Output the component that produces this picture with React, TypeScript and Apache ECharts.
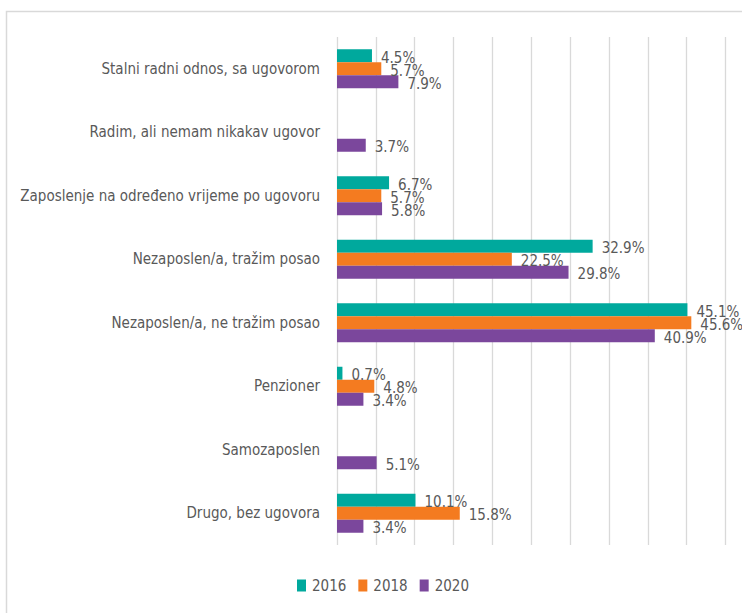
import React, { useEffect, useRef } from "react";
import * as echarts from "echarts";

const categories = [
  "Stalni radni odnos, sa ugovorom",
  "Radim, ali nemam nikakav ugovor",
  "Zaposlenje na određeno vrijeme po ugovoru",
  "Nezaposlen/a, tražim posao",
  "Nezaposlen/a, ne tražim posao",
  "Penzioner",
  "Samozaposlen",
  "Drugo, bez ugovora",
];
const seriesNames = ["2016", "2018", "2020"];
const values2016 = [4.5, null, 6.7, 32.9, 45.1, 0.7, null, 10.1];
const values2018 = [5.7, null, 5.7, 22.5, 45.6, 4.8, null, 15.8];
const values2020 = [7.9, 3.7, 5.8, 29.8, 40.9, 3.4, 5.1, 3.4];
const colors = ["#00A99D", "#F47B20", "#7B479C"];

const FONT = "'DejaVu Sans Condensed', 'DejaVu Sans', sans-serif";
const TEXT = "#595959";

export default function App() {
  const ref = useRef<HTMLDivElement>(null);
  useEffect(() => {
    if (!ref.current) return;
    const chart = echarts.init(ref.current, null, { renderer: "svg" });
    const all = [values2016, values2018, values2020];
    chart.setOption({
      animation: false,
      backgroundColor: "#ffffff",
      color: colors,
      textStyle: { fontFamily: FONT, color: TEXT },
      graphic: [
        {
          type: "rect",
          shape: { x: 6.5, y: 11.5, width: 1000, height: 1000 },
          style: { fill: "none", stroke: "#d9d9d9", lineWidth: 1.5 },
          silent: true,
        },
      ],
      grid: {
        left: 337,
        right: 16.5,
        top: 37,
        bottom: 68,
        containLabel: false,
        outerBoundsMode: "none",
      },
      xAxis: {
        type: "value",
        min: 0,
        max: 50,
        interval: 5,
        axisLabel: { show: false },
        axisLine: { show: false },
        axisTick: { show: false },
        splitLine: { show: true, lineStyle: { color: "#d9d9d9", width: 1.3 } },
      },
      yAxis: {
        type: "category",
        inverse: true,
        data: categories,
        axisLine: { show: false },
        axisTick: { show: false },
        axisLabel: {
          margin: 17,
          fontFamily: FONT,
          fontSize: 15,
          color: TEXT,
        },
      },
      legend: {
        data: seriesNames,
        left: 297,
        top: 578,
        padding: 0,
        itemWidth: 9,
        itemHeight: 12,
        itemGap: 12,
        icon: "rect",
        textStyle: { fontFamily: FONT, fontSize: 15, color: TEXT, padding: [0, 0, 0, 1] },
      },
      series: seriesNames.map((name, i) => ({
        name,
        type: "bar",
        data: all[i],
        barWidth: 13,
        barGap: "0%",
        itemStyle: { color: colors[i] },
        label: {
          show: true,
          position: "right",
          distance: 9,
          offset: [0, 2],
          formatter: (p: any) => `${Number(p.value).toFixed(1)}%`,
          fontFamily: FONT,
          fontSize: 15,
          color: TEXT,
        },
      })),
    });
    return () => chart.dispose();
  }, []);
  return (
    <div
      ref={ref}
      style={{ position: "absolute", left: 0, top: 0, width: 742, height: 613 }}
    />
  );
}
